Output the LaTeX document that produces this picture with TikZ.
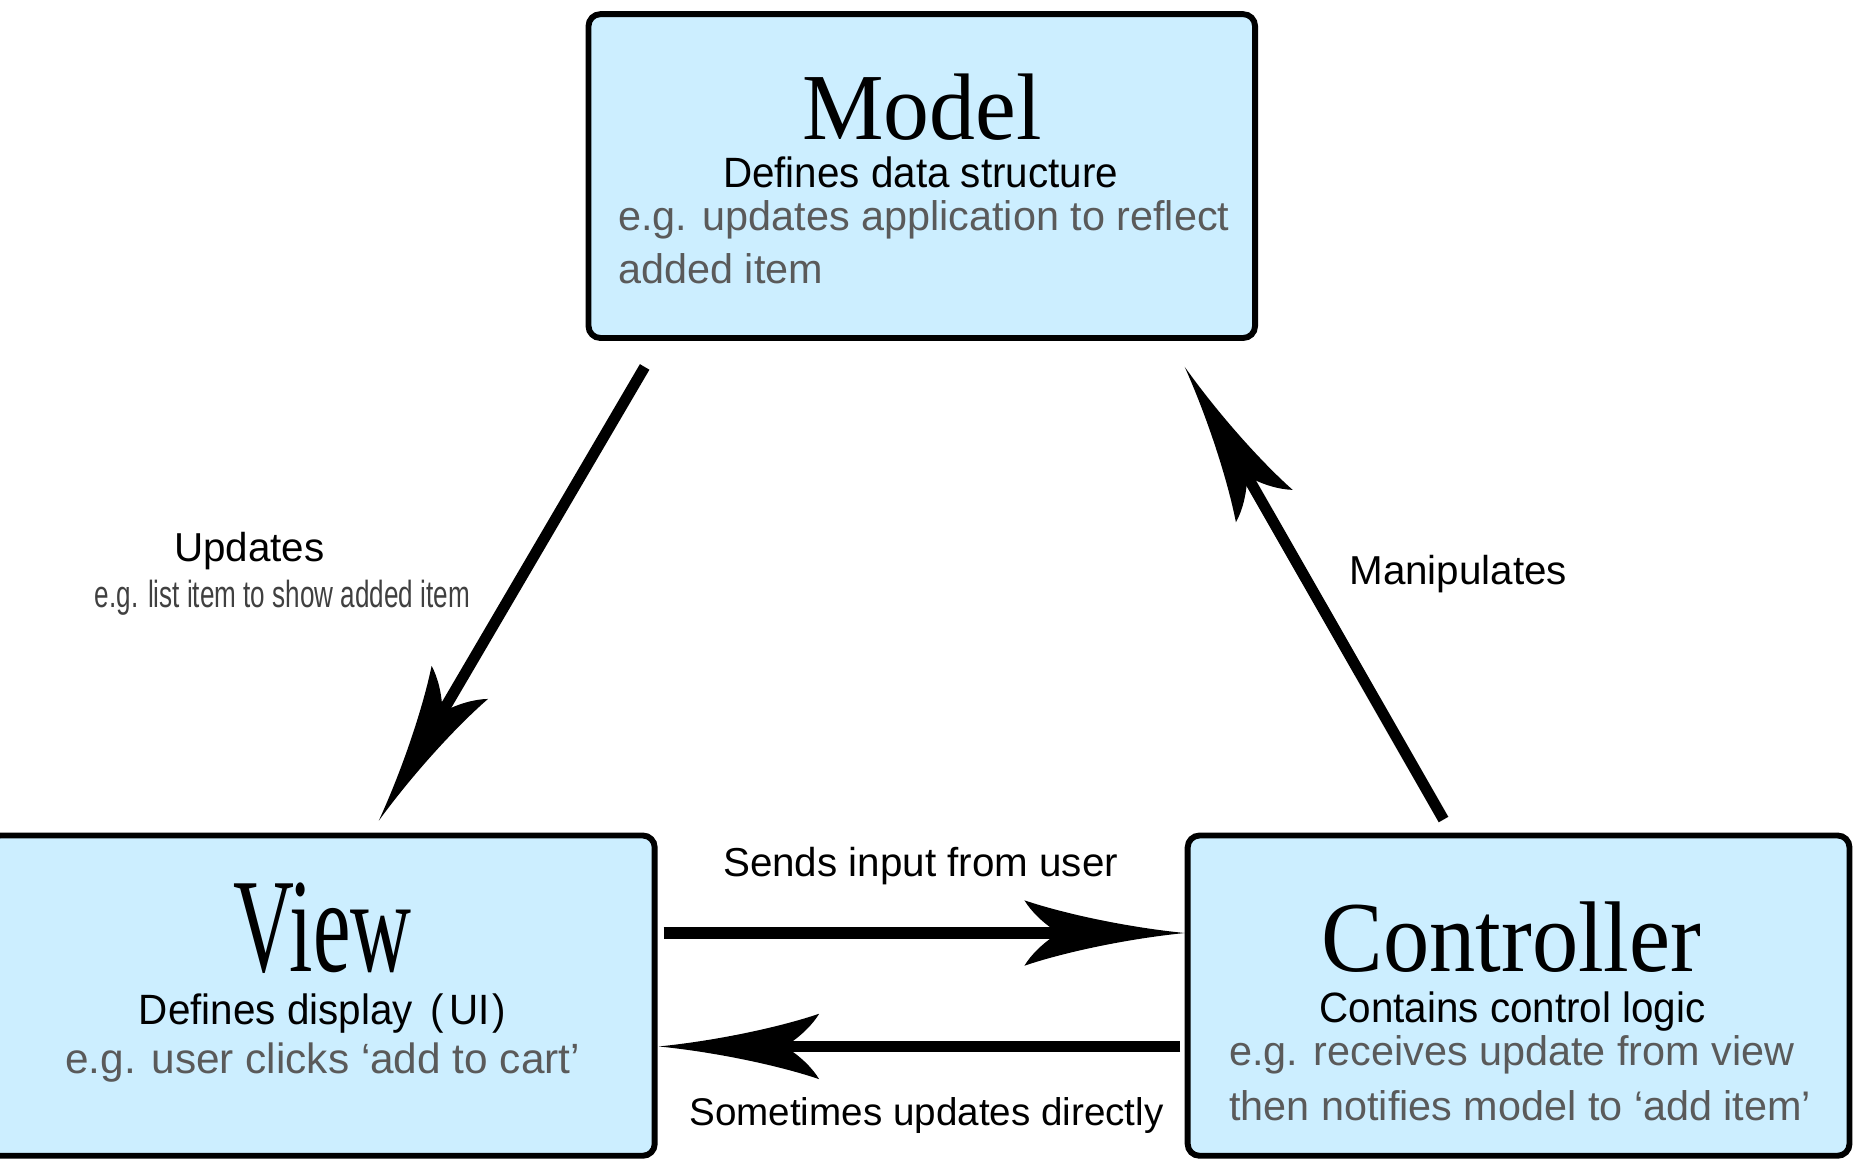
\documentclass[tikz,border=0pt]{standalone}
\usepackage{fontspec}
\setmainfont{Liberation Sans}
\newfontfamily\titlefont{Liberation Serif}
\usetikzlibrary{calc,arrows.meta}
\definecolor{boxfill}{RGB}{204,238,255}
\definecolor{egray}{RGB}{90,90,90}
\definecolor{lgray}{RGB}{64,64,64}

\pgfdeclarearrow{
  name=Swept,
  setup code={
    \pgfarrowssettipend{0pt}
    \pgfarrowssetlineend{-60pt}
    \pgfarrowssetvisualbackend{-66pt}
    \pgfarrowssetbackend{-81.4pt}
    \pgfarrowshullpoint{0pt}{0pt}
    \pgfarrowsupperhullpoint{-81.4pt}{16.6pt}
  },
  drawing code={
    \pgfpathmoveto{\pgfpointorigin}
    \pgfpathcurveto{\pgfpoint{-30pt}{3pt}}{\pgfpoint{-62pt}{10pt}}{\pgfpoint{-81.4pt}{16.6pt}}
    \pgfpathcurveto{\pgfpoint{-78pt}{11pt}}{\pgfpoint{-72pt}{5pt}}{\pgfpoint{-64pt}{0pt}}
    \pgfpathcurveto{\pgfpoint{-72pt}{-5pt}}{\pgfpoint{-78pt}{-11pt}}{\pgfpoint{-81.4pt}{-16.6pt}}
    \pgfpathcurveto{\pgfpoint{-62pt}{-10pt}}{\pgfpoint{-30pt}{-3pt}}{\pgfpointorigin}
    \pgfpathclose
    \pgfusepathqfill
  }
}

\tikzset{
  box/.style={draw, line width=3pt, rounded corners=6pt, fill=boxfill, inner sep=0pt},
  conn/.style={line width=5.6pt, -{Swept}},
  blk/.style={font=\fontsize{20.5}{24}\selectfont, inner sep=0pt, text=black},
  gry/.style={font=\fontsize{21}{24}\selectfont, inner sep=0pt, text=egray},
  small/.style={font=\fontsize{19.2}{22}\selectfont, inner sep=0pt, text=lgray},
  ttl/.style={inner sep=0pt, text=black}
}

\begin{document}
\begin{tikzpicture}[x=0.6pt,y=-0.6pt]
\useasboundingbox (0,0) rectangle (1568,982.4);

% boxes
\node[box, minimum width=338.4pt, minimum height=164.4pt] (model) at (780,149) {};
\node[box, minimum width=338.4pt, minimum height=162.6pt] (view) at (272,842.5) {};
\node[box, minimum width=336pt, minimum height=162.6pt] (ctrl) at (1285,842.5) {};

% Model texts
\node[ttl, anchor=base, font=\titlefont\fontsize{48}{48}\selectfont] (mt) at (780,118) {\scalebox{0.97}[1]{Model}};
\node[blk, anchor=base] (mdesc) at (779,159) {\scalebox{1}[1.05]{Defines data structure}};
\node[gry, anchor=base west] (meg1) at (523,195) {e.g. updates application to reflect};
\node[gry, anchor=base west] (meg2) at (523,240) {added item};

% View texts
\node[ttl, anchor=base, font=\titlefont\fontsize{68}{68}\selectfont] (vt) at (273,822) {\scalebox{0.63}[1]{View}};
\node[blk, anchor=base] (vdesc) at (273,867) {\scalebox{1}[1.05]{Defines display\hspace{0.45em}(\hspace{0.12em}UI\hspace{0.08em})}};
\node[gry, anchor=base, font=\fontsize{21.5}{24}\selectfont] (veg) at (273,908) {e.g. user clicks ‘add to cart’};

% Controller texts
\node[ttl, anchor=base, font=\titlefont\fontsize{51}{51}\selectfont] (ct) at (1279,822) {\scalebox{0.92}[1]{Controller}};
\node[blk, anchor=base] (cdesc) at (1280,865) {\scalebox{1}[1.05]{Contains control logic}};
\node[gry, anchor=base west] (ceg1) at (1040,902) {e.g. receives update from view};
\node[gry, anchor=base west] (ceg2) at (1040,948) {then notifies model to ‘add item’};

% connector end points
\coordinate (a1s) at ($(model.south west)+(50,22)$);
\coordinate (a1e) at ($(view.north west)+(333,-10)$);
\coordinate (a2s) at ($(ctrl.north west)+(219,-11)$);
\coordinate (a2e) at ($(model.south east)+(-62,22)$);
\coordinate (a3s) at ($(view.north east)+(5,85)$);
\coordinate (a3e) at ($(ctrl.north west)+(0,85)$);
\coordinate (a4s) at ($(ctrl.north west)+(-4,181)$);
\coordinate (a4e) at ($(view.north east)+(1,181)$);

\draw[conn] (a1s) -- (a1e);
\draw[conn] (a2s) -- (a2e);
\draw[conn] (a3s) -- (a3e);
\draw[conn] (a4s) -- (a4e);

% labels
\node[blk, anchor=base] (lup) at (211,475) {Updates};
\node[small, anchor=base] (lupeg) at (239,514) {\scalebox{0.69}[1]{e.g. list item to show added item}};
\node[blk, anchor=base] (lman) at (1234,495) {Manipulates};
\node[blk, anchor=base] (lsend) at (779,742) {Sends input from user};
\node[blk, anchor=base, font=\fontsize{19.6}{22}\selectfont] (lsome) at (784,952) {Sometimes updates directly};
\end{tikzpicture}
\end{document}
